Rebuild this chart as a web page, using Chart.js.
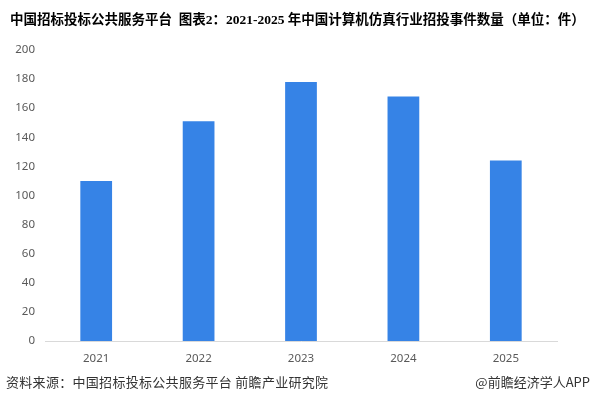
<!DOCTYPE html>
<html>
<head>
<meta charset="utf-8">
<script src="https://cdn.jsdelivr.net/npm/chart.js@4"></script>
<style>
    html, body { margin: 0; padding: 0; background: #fff; }
    #wrap { position: relative; width: 594px; height: 404px; overflow: hidden; }
    #chart { position: absolute; left: 0; top: 0; }
    .title {
        position: absolute; left: 10px; top: 8px; white-space: nowrap;
        font: bold 13.5px "Liberation Serif", "Noto Sans CJK SC", serif; color: #000;
    }
    .source {
        position: absolute; left: 6px; top: 372px; white-space: nowrap;
        font: 13px "Noto Sans CJK SC", sans-serif; color: #333; letter-spacing: 0.3px;
    }
    .brand {
        position: absolute; right: 4px; top: 372px; white-space: nowrap;
        font: 13px "Noto Sans CJK SC", sans-serif; color: #333;
    }
</style>
</head>
<body>
<div id="wrap">
    <canvas id="chart" width="594" height="404"></canvas>
    <div class="title">中国招标投标公共服务平台&nbsp; 图表2：2021-2025 年中国计算机仿真行业招投事件数量（单位：件）</div>
    <div class="source">资料来源：中国招标投标公共服务平台 前瞻产业研究院</div>
    <div class="brand">@前瞻经济学人APP</div>
</div>
<script>
// Data
const years = ['2021', '2022', '2023', '2024', '2025'];
const eventCounts = [110, 151, 178, 168, 124];
const yTicks = [0, 20, 40, 60, 80, 100, 120, 140, 160, 180, 200];

document.addEventListener('DOMContentLoaded', function() {
    const ctx = document.getElementById('chart');
    const tickFont = { family: '"Noto Sans", "Open Sans", sans-serif', size: 11.5 };

    new Chart(ctx, {
        type: 'bar',
        data: {
            labels: years,
            datasets: [{
                label: '招投事件数量',
                data: eventCounts,
                backgroundColor: '#3683e6',
                barPercentage: 0.31,
                categoryPercentage: 1
            }]
        },
        options: {
            responsive: false,
            animation: false,
            layout: {
                padding: { top: 50, right: 37, bottom: 39, left: 0 }
            },
            plugins: {
                legend: { display: false },
                tooltip: { enabled: false }
            },
            scales: {
                y: {
                    min: 0,
                    max: 200,
                    afterBuildTicks: function(scale) {
                        scale.ticks = yTicks.map(v => ({ value: v }));
                    },
                    afterFit: function(scale) { scale.width = 45; },
                    grid: { display: false },
                    border: { display: false },
                    ticks: {
                        color: '#595959',
                        padding: 2,
                        font: tickFont
                    }
                },
                x: {
                    afterFit: function(scale) { scale.height = 24; },
                    grid: { display: false },
                    border: { display: true, color: '#d9d9d9', width: 1 },
                    ticks: {
                        color: '#595959',
                        padding: 3,
                        font: tickFont
                    }
                }
            }
        }
    });
});
</script>
</body>
</html>
